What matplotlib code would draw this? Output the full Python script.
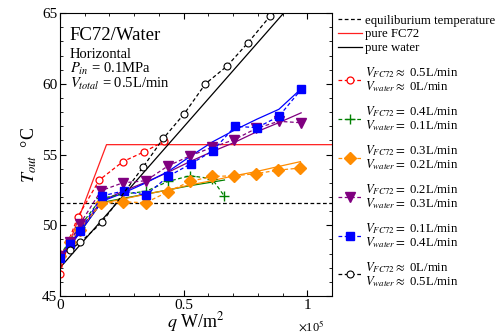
import numpy as np
import matplotlib
matplotlib.use("Agg")
import matplotlib.pyplot as plt
from matplotlib.ticker import MultipleLocator

plt.rcParams['font.family'] = ['Liberation Serif', 'DejaVu Serif']
plt.rcParams['mathtext.fontset'] = 'stix'

# heat flux q in units of 1e5 W/m^2, outlet temperature in degC
t_equil = 51.6

# model lines (solid)
q_pure_fc72 = [0.0, 0.188, 1.1]
t_pure_fc72 = [47.0, 55.7, 55.7]
q_pure_water = [0.0, 1.1]
t_pure_water = [47.0, 68.9]

# measured: V_FC72 ~ 0.5, V_water ~ 0
q_fc05 = [0.0, 0.035, 0.072, 0.159, 0.254, 0.341, 0.422]
t_fc05 = [46.55, 48.9, 50.6, 53.2, 54.5, 55.2, 55.95]

# measured: V_FC72 = 0.4, V_water = 0.1
q_fc04 = [0.0, 0.04, 0.08, 0.166, 0.254, 0.347, 0.437, 0.525, 0.614, 0.665]
t_fc04 = [47.9, 48.9, 49.9, 51.9, 52.2, 52.4, 53.1, 53.5, 53.3, 52.05]
t_fc04_model = [47.8, 48.6, 49.5, 51.6, 51.9, 52.2, 52.5, 52.8, 53.05, 53.2]

# measured: V_FC72 = 0.3, V_water = 0.2
q_fc03 = [0.0, 0.04, 0.08, 0.166, 0.254, 0.347, 0.437, 0.525, 0.614, 0.704, 0.794, 0.882, 0.972]
t_fc03 = [47.8, 48.8, 49.7, 51.55, 51.65, 51.6, 52.37, 53.1, 53.45, 53.5, 53.65, 53.9, 54.05]
t_fc03_model = [47.9, 48.7, 49.6, 51.55, 51.85, 52.2, 52.5, 52.85, 53.15, 53.5, 53.8, 54.15, 54.5]

# measured: V_FC72 = 0.2, V_water = 0.3
q_fc02 = [0.0, 0.04, 0.081, 0.166, 0.254, 0.347, 0.437, 0.525, 0.614, 0.704, 0.794, 0.884, 0.975]
t_fc02 = [47.8, 48.8, 50.1, 52.45, 53.0, 53.15, 54.2, 54.9, 55.5, 56.05, 56.85, 57.35, 57.25]
t_fc02_model = [47.7, 48.6, 49.6, 51.7, 52.4, 53.05, 53.75, 54.5, 55.2, 55.85, 56.6, 57.25, 57.95]

# measured: V_FC72 = 0.1, V_water = 0.4
q_fc01 = [0.0, 0.04, 0.081, 0.17, 0.259, 0.347, 0.437, 0.529, 0.617, 0.708, 0.796, 0.885, 0.975]
t_fc01 = [47.7, 48.7, 49.6, 52.08, 52.43, 52.13, 53.45, 54.35, 55.25, 57.0, 56.9, 57.7, 59.6]
t_fc01_model = [47.6, 48.5, 49.5, 51.7, 52.3, 53.0, 53.8, 54.9, 55.9, 56.75, 57.5, 58.2, 59.65]

# measured: V_FC72 ~ 0, V_water ~ 0.5
q_fc00 = [0.04, 0.082, 0.169, 0.335, 0.418, 0.503, 0.588, 0.675, 0.760, 0.850]
t_fc00 = [48.25, 48.8, 50.2, 54.1, 56.15, 57.9, 60.0, 61.25, 62.9, 64.8]

fig = plt.figure(figsize=(5.01, 3.36), dpi=100)
ax = fig.add_axes([0.1198, 0.119, 0.543, 0.842])

dash = (0, (3, 2))
lw = 0.9

# model curves
l_eq = ax.axhline(t_equil, color='black', ls=dash, lw=lw, label='equiliburium temperature')
l_fc, = ax.plot(q_pure_fc72, t_pure_fc72, color='#ff2020', lw=lw, label='pure FC72')
l_w, = ax.plot(q_pure_water, t_pure_water, color='black', lw=lw, label='pure water')
ax.plot(q_fc04, t_fc04_model, color='green', lw=lw)
ax.plot(q_fc03, t_fc03_model, color='darkorange', lw=lw)
ax.plot(q_fc02, t_fc02_model, color='purple', lw=lw)
ax.plot(q_fc01, t_fc01_model, color='blue', lw=lw)

# measurements
labels = [
    r'$V_{FC72}\approx$ 0.5L/min' + '\n' + r'$V_{water}\approx$ 0L/min',
    r'$V_{FC72}=$ 0.4L/min' + '\n' + r'$V_{water}=$ 0.1L/min',
    r'$V_{FC72}=$ 0.3L/min' + '\n' + r'$V_{water}=$ 0.2L/min',
    r'$V_{FC72}=$ 0.2L/min' + '\n' + r'$V_{water}=$ 0.3L/min',
    r'$V_{FC72}=$ 0.1L/min' + '\n' + r'$V_{water}=$ 0.4L/min',
    r'$V_{FC72}\approx$ 0L/min' + '\n' + r'$V_{water}\approx$ 0.5L/min',
]
h = []
h += ax.plot(q_fc05, t_fc05, color='red', ls=dash, lw=lw, marker='o', ms=5,
             mfc='white', mew=0.9, label=labels[0])
h += ax.plot(q_fc04, t_fc04, color='green', ls=dash, lw=lw, marker='+', ms=7,
             mew=1.0, label=labels[1])
h += ax.plot(q_fc03, t_fc03, color='darkorange', ls=dash, lw=lw, marker='D', ms=6.5,
             label=labels[2])
h += ax.plot(q_fc02, t_fc02, color='purple', ls=dash, lw=lw, marker='v', ms=6.5,
             label=labels[3])
h += ax.plot(q_fc01, t_fc01, color='blue', ls=dash, lw=lw, marker='s', ms=6,
             label=labels[4])
h += ax.plot(q_fc00, t_fc00, color='black', ls=dash, lw=lw, marker='o', ms=5,
             mfc='white', mew=0.8, label=labels[5])

ax.set_xlim(0, 1.1)
ax.set_ylim(45, 65)
ax.xaxis.set_major_locator(MultipleLocator(0.5))
ax.xaxis.set_minor_locator(MultipleLocator(0.1))
ax.yaxis.set_major_locator(MultipleLocator(5))
ax.yaxis.set_minor_locator(MultipleLocator(1))
ax.set_xticks([0, 0.5, 1])
ax.set_xticklabels(['0', '0.5', '1'])
ax.tick_params(which='both', direction='in', top=True, right=True, labelsize=11, pad=2)
ax.tick_params(which='major', length=4)
ax.tick_params(which='minor', length=2.5)

ax.set_xlabel(r'$q$ W/m$^2$', fontsize=13, labelpad=-1)
ax.set_ylabel(r'$T_{out}$  °C', fontsize=13, labelpad=2)
ax.text(0.923, -0.11, r'$\times$10$^5$', transform=ax.transAxes, fontsize=9,
        ha='center', va='center')

ax.text(0.035, 0.922, 'FC72/Water', transform=ax.transAxes, fontsize=13.5, va='center')
ax.text(0.035, 0.852, 'Horizontal', transform=ax.transAxes, fontsize=10.5, va='center')
ax.text(0.035, 0.802, r'$P_{in}$ = 0.1MPa', transform=ax.transAxes, fontsize=10.5, va='center')
ax.text(0.035, 0.749, r'$V_{total}$ = 0.5L/min', transform=ax.transAxes, fontsize=10.5, va='center')

leg1 = ax.legend(handles=[l_eq, l_fc, l_w], loc='upper left', bbox_to_anchor=(1.02, 0.995),
                 frameon=False, fontsize=9.2, handlelength=1.9, handletextpad=0.25,
                 labelspacing=0.15, borderpad=0, borderaxespad=0)
ax.add_artist(leg1)
leg2 = ax.legend(handles=h, loc='upper left', bbox_to_anchor=(1.02, 0.815),
                 frameon=False, fontsize=9.2, handlelength=1.9, handletextpad=0.25,
                 labelspacing=0.77, borderpad=0, borderaxespad=0, numpoints=1)
for t in leg2.get_texts():
    t.set_linespacing(0.95)

fig.savefig('out.png', dpi=100)
